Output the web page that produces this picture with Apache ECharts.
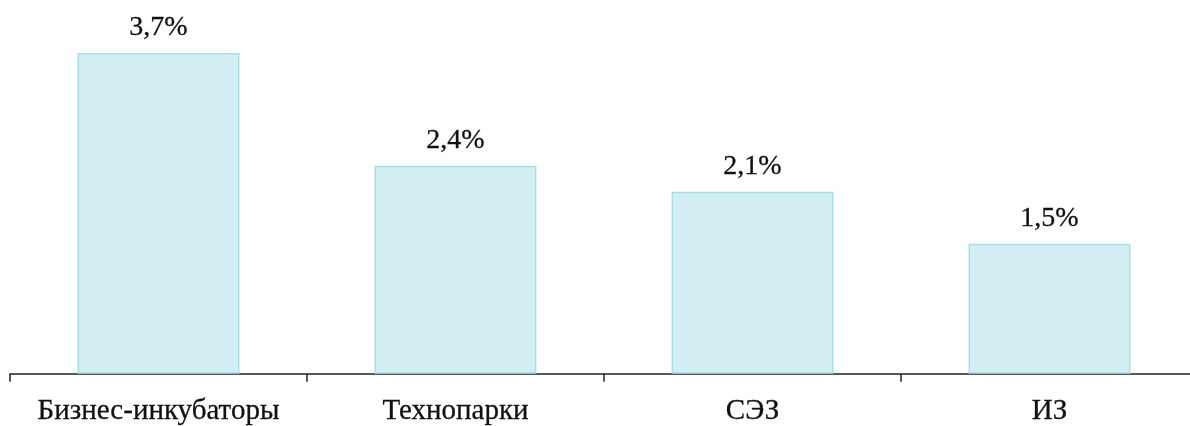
<!DOCTYPE html>
<html><head><meta charset="utf-8">
<script src="https://cdn.jsdelivr.net/npm/echarts@6/dist/echarts.min.js"></script>
<style>html,body{margin:0;padding:0;background:#fff;overflow:hidden;width:1190px;height:426px}#c{width:1200px;height:426px}</style>
</head><body><div id="c"></div>
<script>
const categories = ['Бизнес-инкубаторы', 'Технопарки', 'СЭЗ', 'ИЗ'];
const values = [3.7, 2.4, 2.1, 1.5];

const chart = echarts.init(document.getElementById('c'));
chart.setOption({
  animation: false,
  grid: {left: 10, top: 27, width: 1188, bottom: 51, containLabel: false},
  xAxis: {
    type: 'category', data: categories,
    axisLine: {lineStyle: {color: '#222', width: 1.5}},
    axisTick: {show: true, interval: 0, length: 8, lineStyle: {color: '#222', width: 1.5}},
    axisLabel: {interval: 0, hideOverlap: false, color: '#111', fontFamily: 'Liberation Serif', fontSize: 29, margin: 23,
      textBorderColor: '#111', textBorderWidth: 0.3}
  },
  yAxis: {type: 'value', min: 0, max: 4, show: false, splitLine: {show: false}},
  series: [{
    type: 'bar', data: values, barWidth: '54.5%',
    itemStyle: {color: '#d3eef3', borderColor: '#a9dde6', borderWidth: 1.5},
    label: {
      show: true, position: 'top', distance: 11,
      fontFamily: 'Liberation Serif', fontSize: 28, color: '#111',
      textBorderColor: '#111', textBorderWidth: 0.3,
      formatter: p => String(p.value).replace('.', ',') + '%'
    }
  }]
});
</script></body></html>
